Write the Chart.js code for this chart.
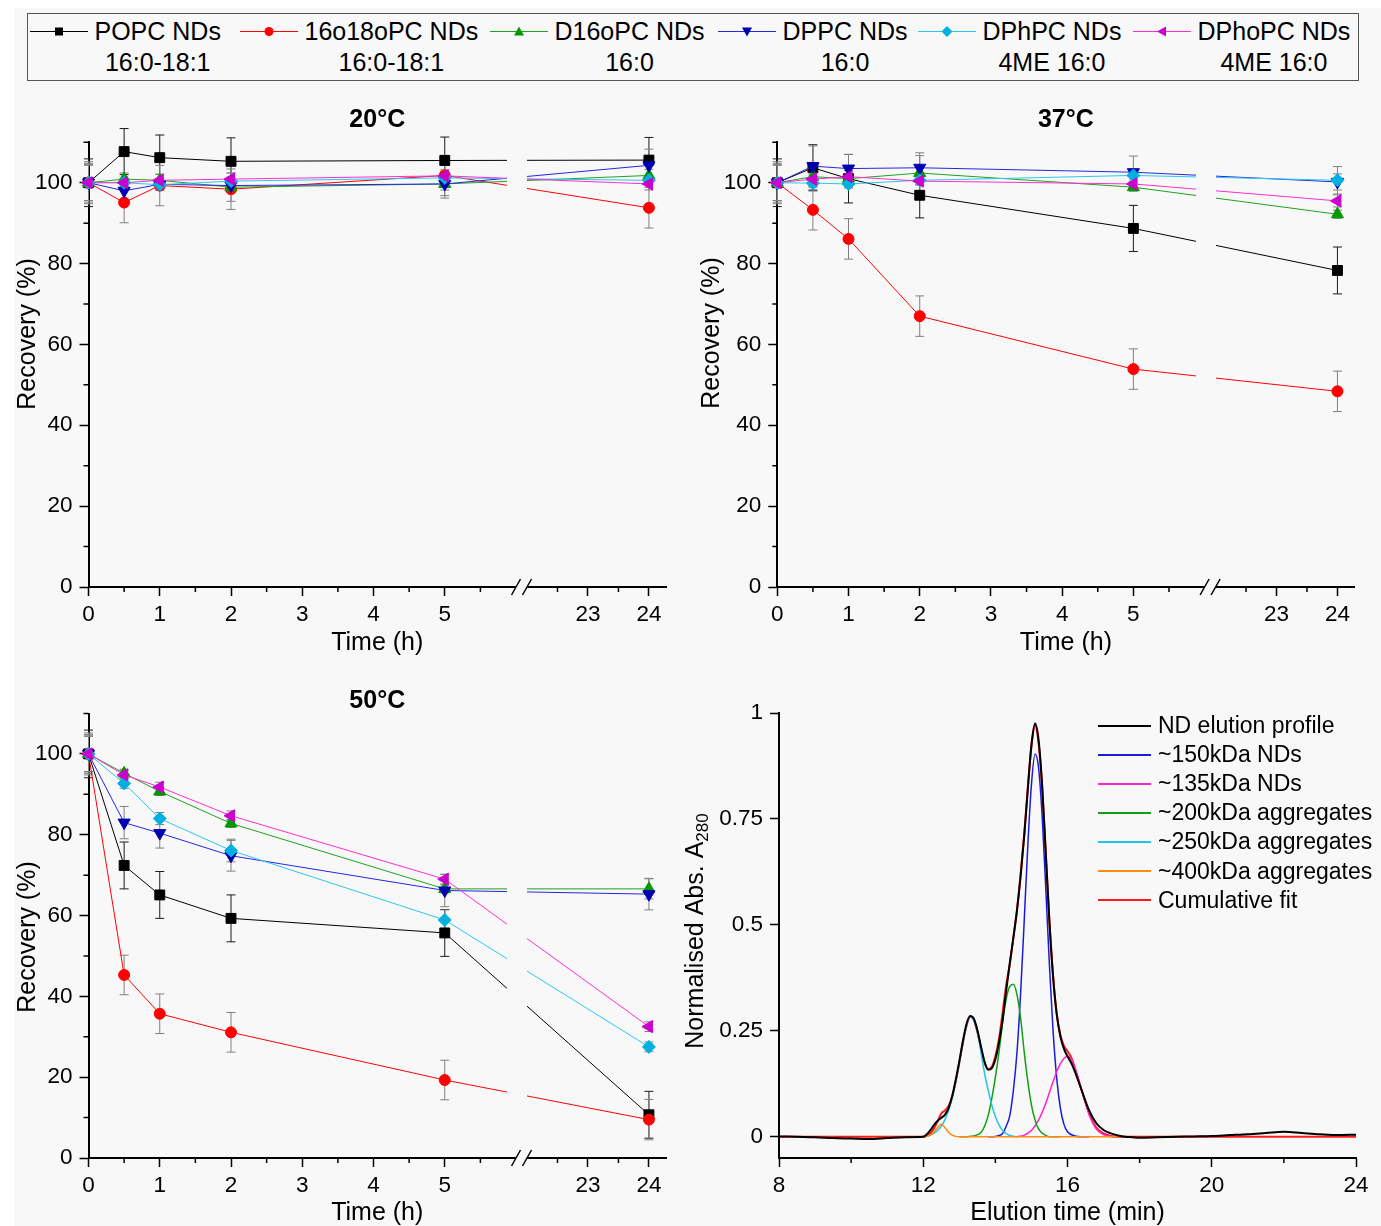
<!DOCTYPE html>
<html lang="en">
<head>
<meta charset="utf-8">
<title>Nanodisc recovery and SEC profile</title>
<script src="https://cdn.jsdelivr.net/npm/chart.js@4.4.1/dist/chart.umd.min.js"></script>
<style>
  body { margin: 0; width: 1381px; height: 1226px; position: relative; overflow: hidden; background: #fff;
         font-family: "Liberation Sans", Arial, sans-serif; color: #000; }
  #sheet { position: absolute; left: 14px; top: 8px; right: 0; bottom: 0; background: #f8f8f8; }
  canvas { position: absolute; }
  #legend { position: absolute; left: 27px; top: 13px; width: 1332px; height: 68px; border: 1.5px solid #555; box-sizing: border-box; }
  .item { position: absolute; top: 2px; display: flex; align-items: flex-start; }
  .item svg { display: block; }
  .item .txt { margin-left: 7px; text-align: center; font-size: 25px; line-height: 31px; white-space: nowrap; }
  #secLegend { position: absolute; left: 1098px; top: 711px; font-size: 23px; white-space: nowrap; }
  #secLegend .row { display: flex; align-items: center; height: 29.1px; }
  #secLegend .swatch { width: 53px; height: 2px; margin-right: 7px; }
</style>
</head>
<body>
<div id="sheet"></div>
<div id="legend"></div>
<canvas id="c20" width="690" height="575" style="left:0px;top:95px"></canvas>
<canvas id="c37" width="690" height="575" style="left:689px;top:95px"></canvas>
<canvas id="c50" width="690" height="560" style="left:0px;top:666px"></canvas>
<canvas id="cSec" width="712" height="560" style="left:669px;top:666px"></canvas>
<div id="secLegend"></div>

<script>
const FONT = '"Liberation Sans", Arial, sans-serif';

// ---------- recovery data (time course) ----------
const hours = [0, 0.5, 1, 2, 5, 24];
const seriesNames = ['POPC NDs', '16o18oPC NDs', 'D16oPC NDs', 'DPPC NDs', 'DPhPC NDs', 'DPhoPC NDs'];
const chainLabels = ['16:0-18:1', '16:0-18:1', '16:0', '16:0', '4ME 16:0', '4ME 16:0'];
const xTickHours = [0, 1, 2, 3, 4, 5, 23, 24];
const xMinorHours = [0.5, 1.5, 2.5, 3.5, 4.5, 5.5, 22.5, 23.5];
const yTickRecovery = [0, 20, 40, 60, 80, 100];
const yMinorRecovery = [10, 30, 50, 70, 90, 110];

// rows follow seriesNames
const rec20 = [
  [100, 107.7, 106.2, 105.3, 105.5, 105.6],
  [100, 95.1, 99.3, 98.4, 101.8, 93.8],
  [100, 100.9, 100.6, 98.9, 99.7, 101.8],
  [100, 98.0, 99.6, 99.3, 99.7, 104.3],
  [100, 100.0, 99.5, 100.4, 101.2, 100.6],
  [100, 100.0, 100.6, 100.9, 101.7, 99.7]
];
const err20 = [
  [5.9, 5.7, 5.6, 5.8, 5.8, 5.6],
  [5.2, 5.0, 5.0, 5.0, 5.0, 5.0],
  [4.4, 1.5, 1.5, 3.5, 1.5, 1.5],
  [4.8, 2.5, 1.5, 1.5, 3.5, 4.0],
  [4.4, 1.0, 1.0, 1.0, 1.5, 1.0],
  [4.4, 1.0, 1.5, 1.5, 1.0, 1.5]
];
const rec37 = [
  [100, 103.7, 101.0, 96.9, 88.7, 78.3],
  [100, 93.3, 86.1, 67.0, 53.9, 48.4],
  [100, 101.5, 101.0, 102.4, 98.9, 92.2],
  [100, 104.1, 103.5, 103.7, 102.6, 100.2],
  [100, 99.9, 99.7, 100.6, 101.8, 100.6],
  [100, 100.9, 101.5, 100.4, 99.7, 95.5]
];
const err37 = [
  [5.9, 5.7, 6.0, 5.6, 5.7, 5.8],
  [5.2, 5.0, 5.0, 5.0, 5.0, 5.0],
  [4.4, 2.0, 2.0, 5.0, 1.0, 1.0],
  [4.8, 5.0, 3.5, 3.0, 4.0, 2.0],
  [4.4, 1.0, 1.0, 1.0, 1.5, 3.4],
  [4.4, 1.0, 1.5, 1.0, 1.0, 1.5]
];
const rec50 = [
  [100, 72.4, 65.1, 59.3, 55.7, 10.7],
  [100, 45.3, 35.7, 31.1, 19.3, 9.5],
  [100, 95.2, 90.7, 82.8, 66.6, 66.6],
  [100, 83.0, 80.4, 74.8, 66.2, 65.3],
  [100, 92.7, 84.0, 76.1, 58.9, 27.5],
  [100, 94.8, 91.8, 84.7, 69.0, 32.5]
];
const err50 = [
  [5.9, 5.8, 5.8, 5.8, 5.8, 5.8],
  [5.2, 4.9, 4.9, 4.9, 4.9, 5.0],
  [4.4, 1.0, 1.0, 1.0, 1.0, 2.5],
  [4.8, 4.0, 3.7, 3.8, 4.0, 3.9],
  [4.4, 1.2, 1.5, 2.8, 2.5, 1.2],
  [4.4, 1.0, 1.2, 1.2, 1.2, 1.2]
];

// ---------- SEC data ----------
const secXTicks = [8, 12, 16, 20, 24];
const secXMinor = [10, 14, 18, 22];
const secYTicks = [0, 0.25, 0.5, 0.75, 1];

const elutionTime = [8, 8.5, 9, 9.5, 10, 10.5, 11, 11.5,
  12, 12.1, 12.2, 12.3, 12.4, 12.5, 12.6, 12.7, 12.8, 12.9,
  13, 13.1, 13.2, 13.3, 13.4, 13.5, 13.6, 13.7, 13.8, 13.9,
  14, 14.1, 14.2, 14.3, 14.4, 14.5, 14.6, 14.7, 14.8, 14.9,
  15, 15.1, 15.2, 15.3, 15.4, 15.5, 15.6, 15.7, 15.8, 15.9,
  16, 16.1, 16.2, 16.4, 16.6, 16.8, 17, 17.2, 17.4, 17.6, 17.8, 18,
  18.5, 19, 19.5, 20, 20.5, 21, 21.5, 22, 22.5, 23, 23.5, 24];
const ndProfile = [0.001, 0, -0.001, -0.003, -0.004, -0.005, -0.003, -0.001,
  0, 0.006, 0.016, 0.028, 0.038, 0.045, 0.052, 0.067, 0.095, 0.134,
  0.178, 0.226, 0.266, 0.285, 0.279, 0.252, 0.213, 0.177, 0.158, 0.162,
  0.183, 0.222, 0.275, 0.345, 0.41, 0.47, 0.535, 0.615, 0.71, 0.82,
  0.925, 0.975, 0.935, 0.825, 0.665, 0.505, 0.378, 0.29, 0.238, 0.208,
  0.19, 0.175, 0.155, 0.108, 0.062, 0.032, 0.016, 0.008, 0.003, 0, -0.001, -0.002,
  -0.001, 0, 0.001, 0.002, 0.004, 0.006, 0.009, 0.012, 0.009, 0.006, 0.004, 0.005];
const cumulativeFit = [0, 0, 0, 0, 0, 0, 0, 0,
  0, 0.002, 0.008, 0.02, 0.037, 0.055, 0.062, 0.073, 0.094, 0.131,
  0.175, 0.222, 0.262, 0.283, 0.276, 0.248, 0.21, 0.175, 0.16, 0.165,
  0.19, 0.231, 0.293, 0.358, 0.408, 0.471, 0.536, 0.62, 0.714, 0.826,
  0.921, 0.97, 0.927, 0.82, 0.665, 0.508, 0.38, 0.291, 0.241, 0.215,
  0.202, 0.188, 0.164, 0.108, 0.055, 0.022, 0.008, 0.002, 0, 0, 0, 0,
  0, 0, 0, 0, 0, 0, 0, 0, 0, 0, 0, 0];

const time150 = [13.8, 14, 14.1, 14.2, 14.3, 14.4, 14.5, 14.6, 14.7, 14.8, 14.9,
  15, 15.1, 15.2, 15.3, 15.4, 15.5, 15.6, 15.7, 15.8, 15.9, 16, 16.2, 16.4, 16.6];
const fit150 = [0, 0.001, 0.003, 0.008, 0.025, 0.05, 0.11, 0.2, 0.338, 0.51, 0.688,
  0.831, 0.903, 0.869, 0.752, 0.582, 0.403, 0.25, 0.139, 0.069, 0.03, 0.012, 0.002, 0, 0];
const time135 = [14.6, 14.8, 15, 15.2, 15.4, 15.6, 15.8, 16, 16.1, 16.2, 16.4, 16.6, 16.8, 17, 17.2, 17.4];
const fit135 = [0, 0.004, 0.015, 0.04, 0.08, 0.13, 0.172, 0.19, 0.183, 0.163, 0.108, 0.052, 0.018, 0.005, 0.001, 0];
const time200 = [13, 13.4, 13.6, 13.7, 13.8, 13.9, 14, 14.1, 14.2, 14.3, 14.4, 14.5, 14.6, 14.7, 14.8, 14.9,
  15, 15.1, 15.2, 15.4, 15.6, 15.8];
const fit200 = [0, 0.002, 0.01, 0.025, 0.05, 0.09, 0.14, 0.2, 0.27, 0.325, 0.355, 0.36, 0.335, 0.28, 0.2, 0.13,
  0.075, 0.04, 0.018, 0.003, 0, 0];
const time250 = [12, 12.2, 12.4, 12.5, 12.6, 12.7, 12.8, 12.9, 13, 13.1, 13.2, 13.3, 13.4, 13.5, 13.6, 13.7,
  13.8, 13.9, 14, 14.1, 14.2, 14.4, 14.6];
const fit250 = [0, 0.004, 0.015, 0.025, 0.04, 0.062, 0.09, 0.13, 0.175, 0.222, 0.262, 0.283, 0.276, 0.248, 0.2, 0.15,
  0.11, 0.075, 0.048, 0.028, 0.015, 0.003, 0];
const time400 = [12, 12.1, 12.2, 12.3, 12.4, 12.5, 12.6, 12.7, 12.8, 12.9, 13, 14, 15, 16, 17, 17.5];
const fit400 = [0, 0.001, 0.004, 0.011, 0.022, 0.03, 0.022, 0.011, 0.004, 0.001, 0, 0, 0, 0, 0, 0];

const secNames = ['ND elution profile', '~150kDa NDs', '~135kDa NDs', '~200kDa aggregates',
  '~250kDa aggregates', '~400kDa aggregates', 'Cumulative fit'];

// ---------- styles ----------
const lineColors = ['#000000', '#ff0000', '#1ea31e', '#2626e0', '#2cc8ee', '#ff2ed0'];
const markerColors = ['#000000', '#ff0000', '#009a00', '#0000b0', '#00b0e0', '#cc00cc'];
const errColors = ['#1a1a1a', '#808080', '#808080', '#808080', '#808080', '#808080'];
const markerStyles = ['rect', 'circle', 'triangle', 'triangle', 'rectRot', 'triangle'];
const markerRotation = [0, 0, 0, 180, 0, -90];
const markerRadius = [7, 5.5, 7, 7, 6.5, 7];
const secColors = ['#000000', '#1c1cd8', '#ff22d0', '#12a012', '#22c4ec', '#ff8a10', '#ff1a1a'];

Chart.defaults.font.family = FONT;
Chart.defaults.color = '#000';

// linear scale with a gap between breakFrom and breakTo
class BrokenLinearScale extends Chart.LinearScale {
  _brk() {
    const o = this.options;
    const left = o.breakFrom - this.min;
    const right = this.max - o.breakTo;
    const a = (this.width - o.breakGap) / (left + o.breakRatio * right);
    return {o, left, a};
  }
  getPixelForValue(value) {
    const {o, left, a} = this._brk();
    if (value <= o.breakFrom) return this.left + (value - this.min) * a;
    return this.left + left * a + o.breakGap + (value - o.breakTo) * a * o.breakRatio;
  }
  getValueForPixel(pixel) {
    const {o, left, a} = this._brk();
    const p1 = this.left + left * a;
    if (pixel <= p1) return this.min + (pixel - this.left) / a;
    return o.breakTo + (pixel - p1 - o.breakGap) / (a * o.breakRatio);
  }
}
BrokenLinearScale.id = 'broken';
BrokenLinearScale.defaults = Chart.LinearScale.defaults;
Chart.register(BrokenLinearScale);

const errorBars = {
  id: 'errorBars',
  beforeDatasetsDraw(chart) {
    const {ctx, scales: {x, y}} = chart;
    chart.data.datasets.forEach(ds => {
      if (!ds.errors) return;
      ctx.save();
      ctx.strokeStyle = ds.errorColor;
      ctx.lineWidth = 1;
      ctx.beginPath();
      ds.data.forEach((p, j) => {
        const px = x.getPixelForValue(p.x);
        const top = y.getPixelForValue(p.y + ds.errors[j]);
        const bot = y.getPixelForValue(p.y - ds.errors[j]);
        ctx.moveTo(px, top); ctx.lineTo(px, bot);
        ctx.moveTo(px - 4.5, top); ctx.lineTo(px + 4.5, top);
        ctx.moveTo(px - 4.5, bot); ctx.lineTo(px + 4.5, bot);
      });
      ctx.stroke();
      ctx.restore();
    });
  }
};

const minorTicks = {
  id: 'minorTicks',
  afterDraw(chart, args, opts) {
    const {ctx, chartArea: a, scales} = chart;
    ctx.save();
    ctx.strokeStyle = '#000';
    ctx.lineWidth = 1.5;
    ctx.beginPath();
    (opts.x || []).forEach(v => {
      const p = scales.x.getPixelForValue(v);
      ctx.moveTo(p, a.bottom); ctx.lineTo(p, a.bottom + 5);
    });
    (opts.y || []).forEach(v => {
      const p = scales.y.getPixelForValue(v);
      ctx.moveTo(a.left, p); ctx.lineTo(a.left - 5, p);
    });
    ctx.stroke();
    ctx.restore();
  }
};

// gap in the curves and the axis line where the time axis is broken
const axisBreak = {
  id: 'axisBreak',
  afterDatasetsDraw(chart, args, opts) {
    if (opts.from == null) return;
    const {ctx, chartArea: a, scales: {x}} = chart;
    const p1 = x.getPixelForValue(opts.from);
    const p2 = x.getPixelForValue(opts.to);
    ctx.save();
    ctx.clearRect(p1 - 9, a.top, p2 - p1 + 9, a.bottom - a.top - 2);
    ctx.clearRect(p1, a.bottom - 3, p2 - p1, 6);
    ctx.strokeStyle = '#000';
    ctx.lineWidth = 1.5;
    ctx.beginPath();
    [p1, p2].forEach(p => { ctx.moveTo(p - 4.5, a.bottom + 8); ctx.lineTo(p + 4.5, a.bottom - 8); });
    ctx.stroke();
    ctx.restore();
  }
};

// rotated axis title, optional subscript
const sideTitle = {
  id: 'sideTitle',
  afterDraw(chart, args, opts) {
    if (!opts.text) return;
    const {ctx, chartArea: a} = chart;
    const sub = opts.sub || '';
    ctx.save();
    ctx.translate(opts.x, opts.y != null ? opts.y : (a.top + a.bottom) / 2);
    ctx.rotate(-Math.PI / 2);
    ctx.fillStyle = '#000';
    ctx.textBaseline = 'middle';
    ctx.font = '25px ' + FONT;
    const w1 = ctx.measureText(opts.text).width;
    ctx.font = '17px ' + FONT;
    const w2 = sub ? ctx.measureText(sub).width : 0;
    const start = -(w1 + w2) / 2;
    ctx.font = '25px ' + FONT;
    ctx.fillText(opts.text, start, 0);
    if (sub) {
      ctx.font = '17px ' + FONT;
      ctx.fillText(sub, start + w1, 7);
    }
    ctx.restore();
  }
};

function axisStyle(extra) {
  return Object.assign({
    grid: { display: true, drawOnChartArea: false, drawTicks: true, tickLength: 9, tickColor: '#000', tickWidth: 1.5 },
    border: { display: true, color: '#000', width: 2 }
  }, extra);
}

function makeTimeChart(id, title, rec, err, lay) {
  const datasets = seriesNames.map((name, i) => ({
    label: name,
    data: hours.map((h, j) => ({ x: h, y: rec[i][j] })),
    errors: err[i],
    errorColor: errColors[i],
    borderColor: lineColors[i],
    borderWidth: 1,
    pointStyle: markerStyles[i],
    pointRotation: markerRotation[i],
    pointRadius: markerRadius[i],
    pointBackgroundColor: markerColors[i],
    pointBorderColor: markerColors[i],
    pointBorderWidth: 1,
    tension: 0,
    clip: false,
    order: seriesNames.length - i
  }));

  return new Chart(document.getElementById(id), {
    type: 'line',
    data: { datasets },
    options: {
      responsive: false,
      animation: false,
      events: [],
      layout: { padding: { left: 0, right: lay.padRight, top: 0, bottom: 0 } },
      plugins: {
        legend: { display: false },
        tooltip: { enabled: false },
        title: {
          display: true, text: title, fullSize: false, color: '#000',
          font: { size: 25, weight: 'bold', lineHeight: 1 },
          padding: { top: lay.titleTop, bottom: lay.titleBottom }
        },
        minorTicks: { x: xMinorHours, y: yMinorRecovery },
        axisBreak: { from: 6, to: 22 },
        sideTitle: { text: 'Recovery (%)', x: lay.yTitleX, y: lay.yTitleY }
      },
      scales: {
        x: axisStyle({
          type: 'broken', min: 0, max: 24.28, bounds: 'data',
          breakFrom: 6, breakTo: 22, breakGap: 11, breakRatio: 0.8555,
          afterBuildTicks: s => { s.ticks = xTickHours.map(v => ({ value: v })); },
          afterFit: s => { s.height = lay.xHeight; },
          ticks: { autoSkip: false, maxRotation: 0, padding: 5, font: { size: 22.5 }, color: '#000', callback: v => String(v) },
          title: { display: true, text: 'Time (h)', color: '#000', font: { size: 25, lineHeight: 1 }, padding: { top: 0, bottom: lay.xTitlePad } }
        }),
        y: axisStyle({
          type: 'linear', min: 0, max: 110, bounds: 'data',
          afterBuildTicks: s => { s.ticks = yTickRecovery.map(v => ({ value: v })); },
          afterFit: s => { s.width = lay.yWidth; },
          ticks: { padding: 7, font: { size: 22.5 }, color: '#000', callback: v => String(v) },
          title: { display: false }
        })
      }
    },
    plugins: [errorBars, minorTicks, axisBreak, sideTitle]
  });
}

makeTimeChart('c20', '20°C', rec20, err20,
  { padRight: 24, yWidth: 88.5, xHeight: 83, titleTop: 12.5, titleBottom: 9.8, yTitleX: 28, yTitleY: 239, xTitlePad: 14.5 });
makeTimeChart('c37', '37°C', rec37, err37,
  { padRight: 24.5, yWidth: 88.3, xHeight: 83, titleTop: 12.5, titleBottom: 9.8, yTitleX: 23, yTitleY: 238, xTitlePad: 14.5 });
makeTimeChart('c50', '50°C', rec50, err50,
  { padRight: 24, yWidth: 88.5, xHeight: 68, titleTop: 22.5, titleBottom: 0, yTitleX: 28, yTitleY: 271, xTitlePad: 0 });

// ---------- SEC panel ----------
// drawn top-first: the first dataset ends on top
const secDraw = [
  { name: 0, x: elutionTime, y: ndProfile, w: 2 },
  { name: 5, x: time400, y: fit400, w: 1.5 },
  { name: 4, x: time250, y: fit250, w: 1.5 },
  { name: 3, x: time200, y: fit200, w: 1.5 },
  { name: 2, x: time135, y: fit135, w: 1.5 },
  { name: 1, x: time150, y: fit150, w: 1.5 },
  { name: 6, x: elutionTime, y: cumulativeFit, w: 2 }
];

new Chart(document.getElementById('cSec'), {
  type: 'line',
  data: {
    datasets: secDraw.map(d => ({
      label: secNames[d.name],
      data: d.x.map((t, i) => ({ x: t, y: d.y[i] })),
      borderColor: secColors[d.name],
      borderWidth: d.w,
      pointRadius: 0,
      cubicInterpolationMode: 'monotone'
    }))
  },
  options: {
    responsive: false,
    animation: false,
    events: [],
    layout: { padding: { left: 0, right: 25, top: 47, bottom: 0 } },
    plugins: {
      legend: { display: false },
      tooltip: { enabled: false },
      minorTicks: { x: secXMinor, y: [] },
      sideTitle: { text: 'Normalised Abs. A', sub: '280', x: 27, y: 265 }
    },
    scales: {
      x: axisStyle({
        type: 'linear', min: 8, max: 24, bounds: 'data',
        afterBuildTicks: s => { s.ticks = secXTicks.map(v => ({ value: v })); },
        afterFit: s => { s.height = 68; },
        ticks: { autoSkip: false, maxRotation: 0, padding: 5, font: { size: 22.5 }, color: '#000', callback: v => String(v) },
        title: { display: true, text: 'Elution time (min)', color: '#000', font: { size: 25, lineHeight: 1 }, padding: { top: 0, bottom: 0 } }
      }),
      y: axisStyle({
        type: 'linear', min: -0.05, max: 1, bounds: 'data',
        afterBuildTicks: s => { s.ticks = secYTicks.map(v => ({ value: v })); },
        afterFit: s => { s.width = 110; },
        ticks: { padding: 7, font: { size: 22.5 }, color: '#000', callback: v => String(v) },
        title: { display: false }
      })
    }
  },
  plugins: [minorTicks, sideTitle]
});

// ---------- HTML legends ----------
function markerSvg(i) {
  const c = markerColors[i], cx = 29, cy = 15.5;
  const shapes = {
    'rect0': `<rect x="${cx - 4}" y="${cy - 4}" width="8" height="8" fill="${c}"/>`,
    'circle0': `<circle cx="${cx}" cy="${cy}" r="4.5" fill="${c}"/>`,
    'triangle0': `<polygon points="${cx},${cy - 5} ${cx + 5},${cy + 4} ${cx - 5},${cy + 4}" fill="${c}"/>`,
    'triangle180': `<polygon points="${cx},${cy + 5} ${cx + 5},${cy - 4} ${cx - 5},${cy - 4}" fill="${c}"/>`,
    'rectRot0': `<polygon points="${cx},${cy - 5.5} ${cx + 5.5},${cy} ${cx},${cy + 5.5} ${cx - 5.5},${cy}" fill="${c}"/>`,
    'triangle-90': `<polygon points="${cx - 5},${cy} ${cx + 4},${cy - 5} ${cx + 4},${cy + 5}" fill="${c}"/>`
  };
  return `<svg width="58" height="31"><line x1="0" y1="${cy}" x2="58" y2="${cy}" stroke="${lineColors[i]}" stroke-width="1.2"/>` +
    shapes[markerStyles[i] + markerRotation[i]] + '</svg>';
}

const legendLeft = [1.5, 211.5, 461.5, 689.5, 889.5, 1104.5];
const legend = document.getElementById('legend');
seriesNames.forEach((name, i) => {
  const item = document.createElement('div');
  item.className = 'item';
  item.style.left = legendLeft[i] + 'px';
  item.innerHTML = markerSvg(i) + `<div class="txt"><div>${name}</div><div>${chainLabels[i]}</div></div>`;
  legend.appendChild(item);
});

const secLegend = document.getElementById('secLegend');
secNames.forEach((name, k) => {
  const row = document.createElement('div');
  row.className = 'row';
  row.innerHTML = `<span class="swatch" style="background:${secColors[k]}"></span><span>${name}</span>`;
  secLegend.appendChild(row);
});
</script>
</body>
</html>
